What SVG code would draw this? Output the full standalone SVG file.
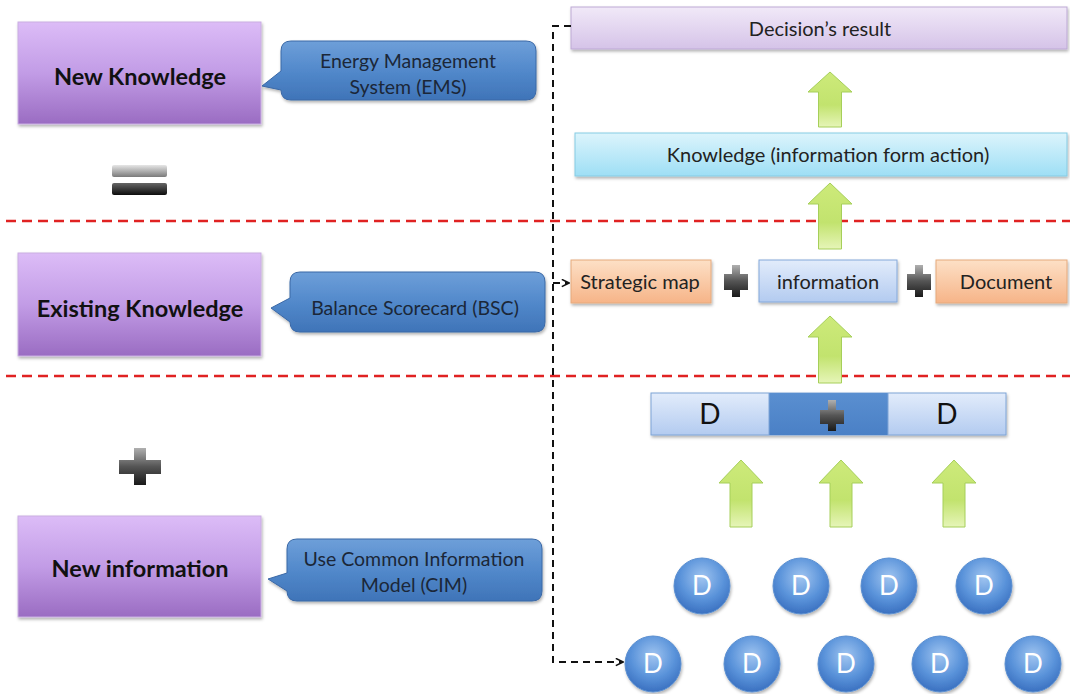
<svg xmlns="http://www.w3.org/2000/svg" width="1070" height="694" viewBox="0 0 1070 694">
<defs>
<linearGradient id="gPurple" x1="0" y1="0" x2="0" y2="1"><stop offset="0" stop-color="#dcbcf7"/><stop offset="0.5" stop-color="#c29ce6"/><stop offset="1" stop-color="#9a6cc2"/></linearGradient>
<linearGradient id="gCall" x1="0" y1="0" x2="0" y2="1"><stop offset="0" stop-color="#6e9fd9"/><stop offset="0.5" stop-color="#5289cb"/><stop offset="1" stop-color="#3f74b8"/></linearGradient>
<linearGradient id="gDec" x1="0" y1="0" x2="0" y2="1"><stop offset="0" stop-color="#f1e9f8"/><stop offset="1" stop-color="#d5c3e8"/></linearGradient>
<linearGradient id="gKnow" x1="0" y1="0" x2="0" y2="1"><stop offset="0" stop-color="#dcf4fc"/><stop offset="1" stop-color="#9edff5"/></linearGradient>
<linearGradient id="gPeach" x1="0" y1="0" x2="0" y2="1"><stop offset="0" stop-color="#fde0c6"/><stop offset="1" stop-color="#f6b488"/></linearGradient>
<linearGradient id="gInfo" x1="0" y1="0" x2="0" y2="1"><stop offset="0" stop-color="#e2ecfb"/><stop offset="1" stop-color="#b3cbf0"/></linearGradient>
<linearGradient id="gBarMid" x1="0" y1="0" x2="0" y2="1"><stop offset="0" stop-color="#5a8fd0"/><stop offset="1" stop-color="#4a80c6"/></linearGradient>
<linearGradient id="gArrow" x1="0" y1="0" x2="0" y2="1"><stop offset="0" stop-color="#cdea7a"/><stop offset="0.6" stop-color="#c2e36e"/><stop offset="1" stop-color="#e6f5b8"/></linearGradient>
<linearGradient id="gPlus" x1="0" y1="0" x2="0" y2="1"><stop offset="0" stop-color="#b0b0b0"/><stop offset="0.5" stop-color="#555"/><stop offset="1" stop-color="#1a1a1a"/></linearGradient>
<linearGradient id="gEq1" x1="0" y1="0" x2="0" y2="1"><stop offset="0" stop-color="#e6e6e6"/><stop offset="1" stop-color="#7a7a7a"/></linearGradient>
<linearGradient id="gEq2" x1="0" y1="0" x2="0" y2="1"><stop offset="0" stop-color="#666"/><stop offset="1" stop-color="#0d0d0d"/></linearGradient>
<radialGradient id="gCirc" cx="0.5" cy="0.35" r="0.65"><stop offset="0" stop-color="#9fc4f0"/><stop offset="0.6" stop-color="#5a93da"/><stop offset="1" stop-color="#3a70c0"/></radialGradient>
<filter id="sh" x="-10%" y="-10%" width="130%" height="140%"><feDropShadow dx="1" dy="2" stdDeviation="1.5" flood-color="#000" flood-opacity="0.3"/></filter>
<marker id="chev" viewBox="0 0 10 10" refX="9" refY="5" markerWidth="9" markerHeight="9" markerUnits="userSpaceOnUse" orient="auto"><path d="M1,1 L9,5 L1,9" fill="none" stroke="#111" stroke-width="1.8"/></marker>
</defs>
<style>
.t{font-family:Lato,"Open Sans","Liberation Sans",sans-serif;}
.pbox{fill:url(#gPurple);stroke:#c9aee2;stroke-width:1;filter:url(#sh);}
.ptxt{font-size:23.5px;font-weight:bold;fill:#111;text-anchor:middle;}
.call{fill:url(#gCall);stroke:#3a68a6;stroke-width:1;filter:url(#sh);}
.ctxt{font-size:19.5px;fill:#1b2738;text-anchor:middle;}
.rtxt{font-size:20px;fill:#222;text-anchor:middle;}
.arrow{fill:url(#gArrow);stroke:#a6cf5a;stroke-width:1;}
.plus{fill:url(#gPlus);}
.red{stroke:#e02222;stroke-width:2.5;stroke-dasharray:10 6;fill:none;}
.conn{stroke:#111;stroke-width:2;stroke-dasharray:7 5;fill:none;}
.circ{fill:url(#gCirc);stroke:#5b8fd0;stroke-width:1;filter:url(#sh);}
.dtxt{font-size:26px;fill:#fff;text-anchor:middle;}
.btxt{font-size:28px;fill:#111;text-anchor:middle;}
</style>
<rect width="1070" height="694" fill="#fff"/>
<g id="separators">
<line class="red" x1="6" y1="221" x2="1070" y2="221"/>
<line class="red" x1="6" y1="376" x2="1070" y2="376"/>
</g>
<g id="new-knowledge"><rect class="pbox" x="18" y="22" width="243" height="102"/><text class="t ptxt" x="140" y="85">New Knowledge</text></g>
<g id="existing-knowledge"><rect class="pbox" x="18" y="253" width="243" height="103"/><text class="t ptxt" x="140" y="317">Existing Knowledge</text></g>
<g id="new-information"><rect class="pbox" x="18" y="516" width="243" height="101"/><text class="t ptxt" x="140" y="577">New information</text></g>
<g id="ems"><path class="call" d="M291,41 H526 Q536,41 536,51 V90 Q536,100 526,100 H291 Q281,100 281,90 V90 L262,86 L281,71 V51 Q281,41 291,41 Z"/><text class="t ctxt" x="408" y="68">Energy Management</text><text class="t ctxt" x="408" y="94">System (EMS)</text></g>
<g id="bsc"><path class="call" d="M300,272 H535 Q545,272 545,282 V322 Q545,332 535,332 H300 Q290,332 290,322 V322 L271,308 L290,298 V282 Q290,272 300,272 Z"/><text class="t ctxt" x="415" y="315">Balance Scorecard (BSC)</text></g>
<g id="cim"><path class="call" d="M297,539 H532 Q542,539 542,549 V591 Q542,601 532,601 H297 Q287,601 287,591 V591 L268,579 L287,573 V549 Q287,539 297,539 Z"/><text class="t ctxt" x="414" y="566">Use Common Information</text><text class="t ctxt" x="414" y="592">Model (CIM)</text></g>
<g id="equals"><rect x="112" y="165" width="55" height="12" rx="2" fill="url(#gEq1)"/><rect x="112" y="183" width="55" height="12" rx="2" fill="url(#gEq2)"/></g>
<g id="plus-left"><path class="plus" d="M134,448 H146 V460 H161 V474 H146 V485 H134 V474 H119 V460 H134 Z"/></g>
<g id="decision"><rect x="571" y="7" width="496" height="42" fill="url(#gDec)" stroke="#bda9d4" filter="url(#sh)"/><text class="t rtxt" x="820" y="36">Decision’s result</text></g>
<g id="knowledge"><rect x="575" y="133" width="492" height="43" fill="url(#gKnow)" stroke="#86cbe3" filter="url(#sh)"/><text class="t rtxt" x="828" y="162">Knowledge (information form action)</text></g>
<g id="strategic-map"><rect x="571" y="260" width="140" height="43" fill="url(#gPeach)" stroke="#e6aa7c" filter="url(#sh)"/><text class="t rtxt" x="640" y="289">Strategic map</text></g>
<g id="plus1"><path class="plus" d="M732,265 H740 V274 H748 V290 H740 V297 H732 V290 H724 V274 H732 Z"/></g>
<g id="information"><rect x="759" y="260" width="138" height="42" fill="url(#gInfo)" stroke="#84a8da" filter="url(#sh)"/><text class="t rtxt" x="828" y="289">information</text></g>
<g id="plus2"><path class="plus" d="M915,265 H923 V274 H931 V290 H923 V297 H915 V290 H907 V274 H915 Z"/></g>
<g id="document"><rect x="936" y="260" width="131" height="43" fill="url(#gPeach)" stroke="#e6aa7c" filter="url(#sh)"/><text class="t rtxt" x="1006" y="289">Document</text></g>
<g id="d-bar">
<rect x="651" y="393" width="355" height="42" fill="url(#gInfo)" stroke="#7ea4d6" filter="url(#sh)"/>
<rect x="769" y="393" width="119" height="42" fill="url(#gBarMid)"/>
<line x1="769" y1="393" x2="769" y2="435" stroke="#7ea4d6"/><line x1="888" y1="393" x2="888" y2="435" stroke="#7ea4d6"/>
<text class="t btxt" x="710" y="424">D</text><text class="t btxt" x="947" y="424">D</text>
<path class="plus" d="M828,400 H836 V410 H844 V424 H836 V431 H828 V424 H820 V410 H828 Z"/>
</g>
<g id="arrows">
<path class="arrow" d="M830,72 L852,92 H841.5 V127 H818.5 V92 H808 Z"/>
<path class="arrow" d="M830,183 L852,204 H841.5 V249 H818.5 V204 H808 Z"/>
<path class="arrow" d="M830,316 L852,337 H841.5 V383 H818.5 V337 H808 Z"/>
<path class="arrow" d="M741,460 L763,483 H752 V527 H730 V483 H719 Z"/>
<path class="arrow" d="M841,460 L863,483 H852 V527 H830 V483 H819 Z"/>
<path class="arrow" d="M954,460 L976,483 H965 V527 H943 V483 H932 Z"/>
</g>
<g id="circles">
<g id="c1"><circle class="circ" cx="702" cy="586" r="28"/><text class="t dtxt" x="702" y="595">D</text></g>
<g id="c2"><circle class="circ" cx="801" cy="586" r="28"/><text class="t dtxt" x="801" y="595">D</text></g>
<g id="c3"><circle class="circ" cx="889" cy="586" r="28"/><text class="t dtxt" x="889" y="595">D</text></g>
<g id="c4"><circle class="circ" cx="984" cy="586" r="28"/><text class="t dtxt" x="984" y="595">D</text></g>
<g id="c5"><circle class="circ" cx="653" cy="664" r="28"/><text class="t dtxt" x="653" y="673">D</text></g>
<g id="c6"><circle class="circ" cx="752" cy="664" r="28"/><text class="t dtxt" x="752" y="673">D</text></g>
<g id="c7"><circle class="circ" cx="846" cy="664" r="28"/><text class="t dtxt" x="846" y="673">D</text></g>
<g id="c8"><circle class="circ" cx="940" cy="664" r="28"/><text class="t dtxt" x="940" y="673">D</text></g>
<g id="c9"><circle class="circ" cx="1033" cy="664" r="28"/><text class="t dtxt" x="1033" y="673">D</text></g>
</g>
<g id="connectors">
<path class="conn" d="M571,26 H553 V662 H623" marker-end="url(#chev)"/>
<path class="conn" d="M553,283 H569" stroke-dasharray="none" marker-end="url(#chev)"/>
</g>
</svg>
